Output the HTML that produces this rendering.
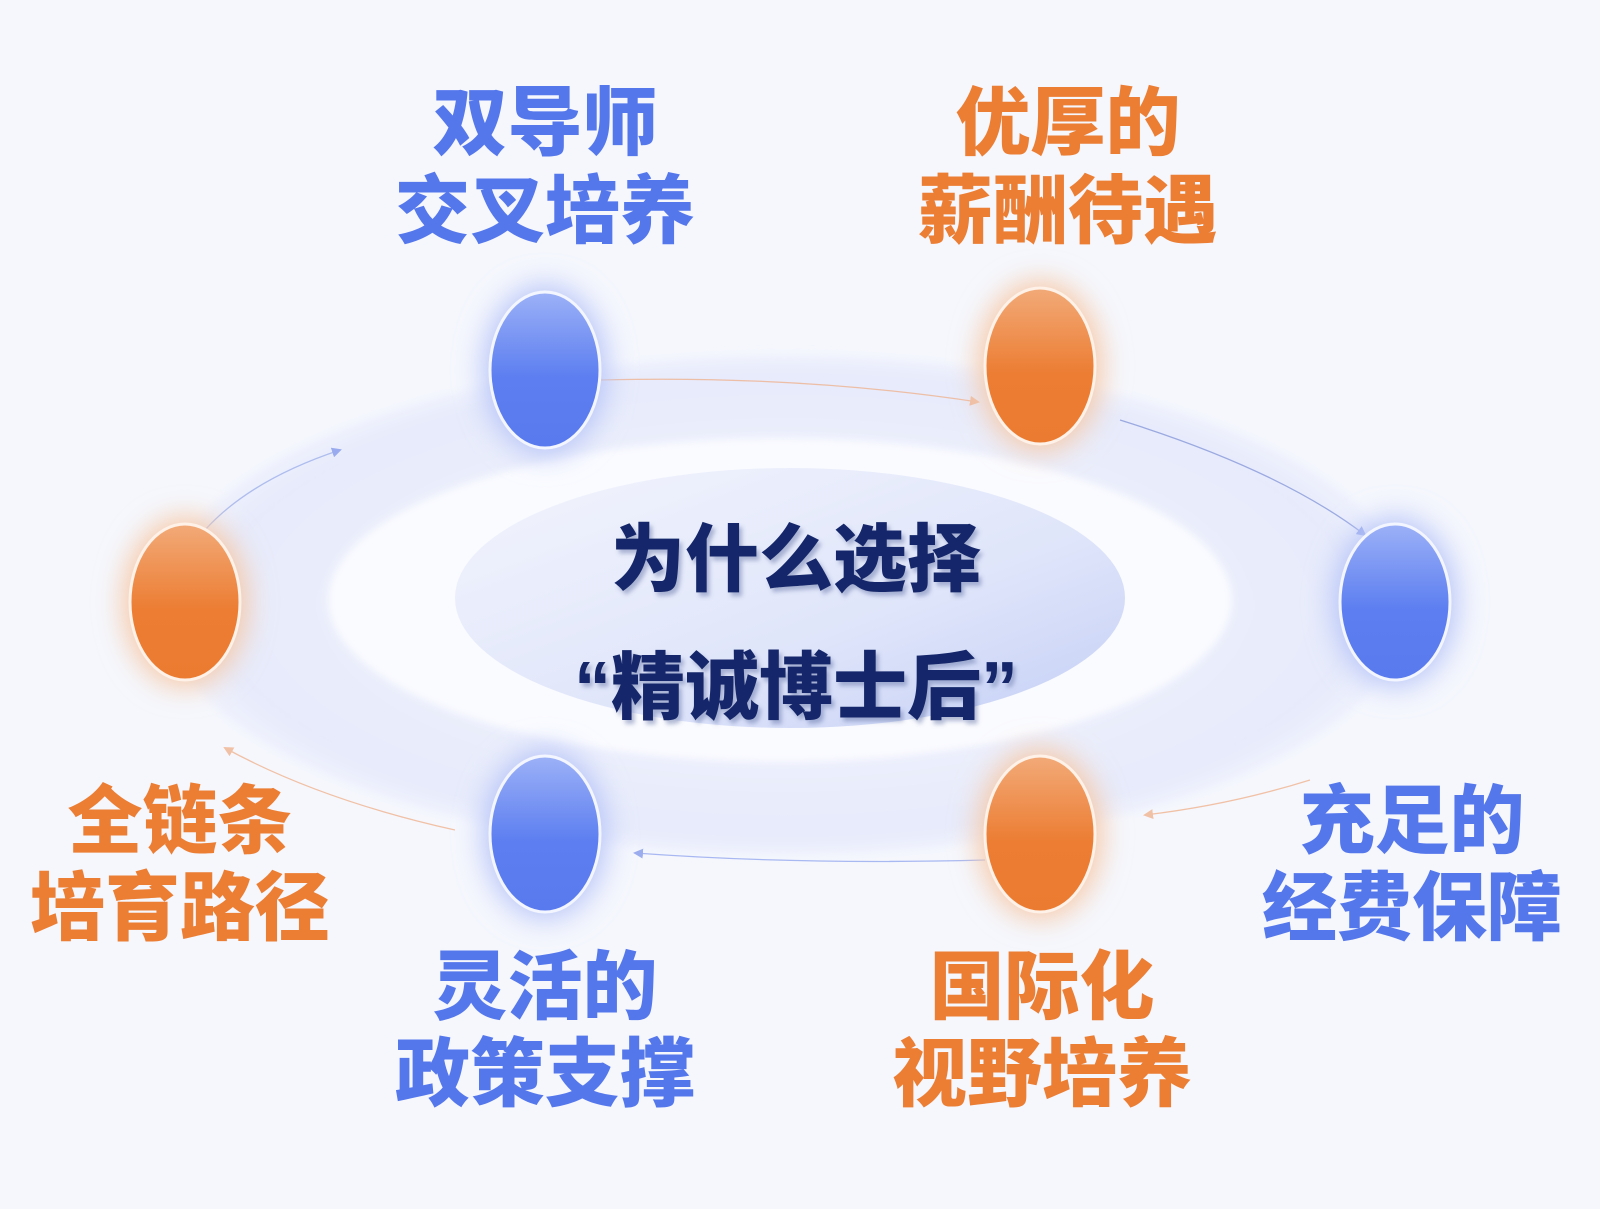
<!DOCTYPE html>
<html><head><meta charset="utf-8"><style>
html,body{margin:0;padding:0;width:1600px;height:1209px;overflow:hidden;background:#f5f7fd}
svg{display:block}
text{font-family:"Liberation Sans","Noto Sans CJK SC",sans-serif;font-weight:900}
</style></head><body>
<svg width="1600" height="1209" viewBox="0 0 1600 1209" xmlns="http://www.w3.org/2000/svg">
<defs>
<radialGradient id="outer" cx="50%" cy="50%" r="50%">
<stop offset="0.6" stop-color="#eceffc"/><stop offset="0.92" stop-color="#e6eafb"/><stop offset="1" stop-color="#eff2fd"/>
</radialGradient>
<linearGradient id="inner" x1="0" y1="0" x2="1" y2="1">
<stop offset="0" stop-color="#f3f5fd"/><stop offset="0.6" stop-color="#dfe5fa"/><stop offset="1" stop-color="#c3cef5"/>
</linearGradient>
<linearGradient id="blue" x1="0" y1="0" x2="0" y2="1">
<stop offset="0" stop-color="#9cb1f7"/><stop offset="0.55" stop-color="#5c7ef0"/><stop offset="1" stop-color="#587aee"/>
</linearGradient>
<linearGradient id="orange" x1="0" y1="0" x2="0" y2="1">
<stop offset="0" stop-color="#f2aa78"/><stop offset="0.55" stop-color="#ec7d33"/><stop offset="1" stop-color="#eb7b30"/>
</linearGradient>
<filter id="blur" x="-50%" y="-50%" width="200%" height="200%"><feGaussianBlur stdDeviation="14"/></filter>
<filter id="blur2" x="-20%" y="-20%" width="140%" height="140%"><feGaussianBlur stdDeviation="4"/></filter>
<filter id="ts"><feDropShadow dx="3" dy="4" stdDeviation="2" flood-color="#5a6aa0" flood-opacity="0.45"/></filter>
<marker id="ab" markerWidth="10" markerHeight="10" refX="8" refY="5" orient="auto" markerUnits="userSpaceOnUse"><path d="M0,0 L10,5 L0,10 z" fill="#7f95ea"/></marker>
<marker id="ao" markerWidth="10" markerHeight="10" refX="8" refY="5" orient="auto" markerUnits="userSpaceOnUse"><path d="M0,0 L10,5 L0,10 z" fill="#f0b08a"/></marker>
</defs>
<ellipse cx="785" cy="605" rx="625" ry="250" fill="url(#outer)" filter="url(#blur2)"/>
<ellipse cx="780" cy="600" rx="452" ry="162" fill="#fafbff" filter="url(#blur2)"/>
<ellipse cx="790" cy="598" rx="335" ry="130" fill="url(#inner)"/>
<!-- arrows -->
<g fill="none" stroke-width="1.3" opacity="0.75">
<path d="M600,380 Q800,375 978,402" stroke="#f0b08a" marker-end="url(#ao)"/>
<path d="M1120,420 Q1280,470 1365,535" stroke="#8294d8" marker-end="url(#ab)"/>
<path d="M1310,780 Q1230,805 1145,815" stroke="#f0b08a" marker-end="url(#ao)"/>
<path d="M985,860 Q800,865 635,853" stroke="#8fa3ee" marker-end="url(#ab)"/>
<path d="M455,830 Q320,800 225,748" stroke="#f0b08a" marker-end="url(#ao)"/>
<path d="M205,530 Q250,480 340,450" stroke="#9badea" marker-end="url(#ab)"/>
</g>
<!-- orbs -->
<g>
<ellipse cx="545" cy="370" rx="62" ry="85" fill="#b7c5f8" filter="url(#blur)"/>
<ellipse cx="545" cy="370" rx="55" ry="78" fill="url(#blue)" stroke="#f4f6ff" stroke-width="3"/>
<ellipse cx="1040" cy="366" rx="62" ry="85" fill="#f6c8a6" filter="url(#blur)"/>
<ellipse cx="1040" cy="366" rx="55" ry="78" fill="url(#orange)" stroke="#fdf1e8" stroke-width="3"/>
<ellipse cx="1395" cy="602" rx="62" ry="85" fill="#b7c5f8" filter="url(#blur)"/>
<ellipse cx="1395" cy="602" rx="55" ry="78" fill="url(#blue)" stroke="#f4f6ff" stroke-width="3"/>
<ellipse cx="1040" cy="834" rx="62" ry="85" fill="#f6c8a6" filter="url(#blur)"/>
<ellipse cx="1040" cy="834" rx="55" ry="78" fill="url(#orange)" stroke="#fdf1e8" stroke-width="3"/>
<ellipse cx="545" cy="834" rx="62" ry="85" fill="#b7c5f8" filter="url(#blur)"/>
<ellipse cx="545" cy="834" rx="55" ry="78" fill="url(#blue)" stroke="#f4f6ff" stroke-width="3"/>
<ellipse cx="185" cy="602" rx="62" ry="85" fill="#f6c8a6" filter="url(#blur)"/>
<ellipse cx="185" cy="602" rx="55" ry="78" fill="url(#orange)" stroke="#fdf1e8" stroke-width="3"/>
</g>
<!-- center text -->
<g fill="#13286a" font-size="74" text-anchor="middle" filter="url(#ts)">
<text x="796" y="585">为什么选择</text>
<text x="796" y="713">“精诚博士后”</text>
</g>
<!-- labels -->
<g font-size="75" text-anchor="middle">
<g fill="#5577ec">
<text x="545" y="149">双导师</text><text x="545" y="237">交叉培养</text>
<text x="1412" y="847">充足的</text><text x="1412" y="934">经费保障</text>
<text x="545" y="1013">灵活的</text><text x="545" y="1100">政策支撑</text>
</g>
<g fill="#ec7e34">
<text x="1068" y="149">优厚的</text><text x="1068" y="237">薪酬待遇</text>
<text x="180" y="847">全链条</text><text x="180" y="934">培育路径</text>
<text x="1042" y="1013">国际化</text><text x="1042" y="1100">视野培养</text>
</g>
</g>
</svg>
</body></html>
